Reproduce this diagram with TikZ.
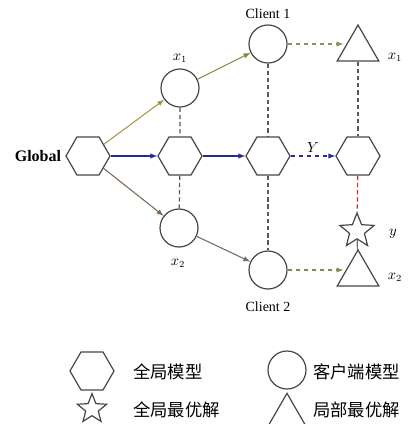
\documentclass[tikz,border=0pt]{standalone}
\usepackage{fontspec}
\setmainfont{Liberation Serif}
\newfontfamily\cjk{Noto Sans CJK SC}
\usetikzlibrary{arrows,calc,shapes.geometric}
\definecolor{OliveClr}{RGB}{165,155,70}
\definecolor{BrownClr}{RGB}{125,105,85}
\definecolor{GreyClr}{RGB}{110,110,110}
\definecolor{BlueClr}{RGB}{40,40,150}
\definecolor{RedClr}{RGB}{225,40,40}
\definecolor{ShapeClr}{RGB}{70,70,70}

\begin{document}
\begin{tikzpicture}[x=0.75pt,y=-0.75pt,
  hexnode/.style={regular polygon,regular polygon sides=6,minimum size=33pt,inner sep=0pt,draw=ShapeClr,line width=0.9pt},
  clientnode/.style={circle,minimum size=28.5pt,inner sep=0pt,draw=ShapeClr,line width=0.9pt},
  trinode/.style={regular polygon,regular polygon sides=3,minimum size=36pt,inner sep=0pt,draw=ShapeClr,line width=0.9pt},
  starnode/.style={star,star points=5,star point ratio=2.3,minimum size=27pt,inner sep=0pt,draw=ShapeClr,line width=0.9pt},
  link/.style={line width=0.8pt,-latex},
  vdash/.style={line width=0.9pt,GreyClr!80!black,dash pattern=on 3.2pt off 2.2pt},
  lbl/.style={inner sep=1pt,text=black,font=\fontsize{10.5}{12}\selectfont},
  leg/.style={anchor=west,inner sep=0pt,font=\cjk\fontsize{13}{15}\selectfont}]
\useasboundingbox (0,0) rectangle (413,424);

% models
\node[hexnode] (G) at (88,156) {};
\node[hexnode] (H1) at (180,156) {};
\node[hexnode] (H2) at (268,156) {};
\node[hexnode] (H3) at (358,156) {};
\node[clientnode] (X1) at (180,88) {};
\node[clientnode] (X2) at (179,228) {};
\node[clientnode] (C1) at (268,44) {};
\node[clientnode] (C2) at (268,270) {};
\node[trinode] (T1) at (358,49) {};
\node[trinode] (T2) at (358,274) {};
\node[starnode] (S) at (357,231) {};

% labels
\node[lbl,anchor=east,font=\bfseries\fontsize{12}{14}\selectfont] (gl) at ([xshift=-2pt]G.west) {Global};
\node[lbl] (c1l) at (268,14) {Client 1};
\node[lbl] (c2l) at (268,307) {Client 2};
\node[lbl] (x1l) at (180,58) {$x_1$};
\node[lbl] (x2l) at (178,263) {$x_2$};
\node[lbl] (t1l) at (395,57) {$x_1$};
\node[lbl] (t2l) at (395,277) {$x_2$};
\node[lbl] (sl) at (393,234) {$y$};

% arrows
\draw[link,OliveClr] (G) -- (X1);
\draw[link,BlueClr] (G) -- (H1);
\draw[link,BrownClr] (G) -- (X2);
\draw[link,OliveClr!85!black] (X1) -- (C1);
\draw[link,GreyClr] (X2) -- (C2);
\draw[link,BlueClr] (H1) -- (H2);
\draw[link,BlueClr,dashed] (H2) -- node[lbl,above=1pt] (yl) {$Y$} (H3);
\draw[link,OliveClr!70!GreyClr,dashed] (C1.east) -- (C1.east -| T1.west);
\draw[link,OliveClr!50!GreyClr,dashed] (C2.east) -- (C2.east -| T2.west);

% vertical links
\draw[vdash] (X1) -- (H1) -- (X2);
\draw[vdash] (C1) -- (H2) -- (C2);
\draw[vdash] (T1) -- (H3);
\draw[vdash,RedClr] (H3) -- (S);
\draw[line width=0.9pt,GreyClr] (S) -- (T2);

% legend
\node[hexnode] (L1) at (92,371) {};
\node[clientnode] (L2) at (287,370) {};
\node[starnode,minimum size=23pt] (L3) at (92,409) {};
\node[trinode,minimum size=34pt] (L4) at (287,416) {};
\node[leg] (l1t) at (133,372) {全局模型};
\node[leg] (l2t) at (313,372) {客户端模型};
\node[leg] (l3t) at (133,410) {全局最优解};
\node[leg] (l4t) at (313,410) {局部最优解};

\end{tikzpicture}
\end{document}
